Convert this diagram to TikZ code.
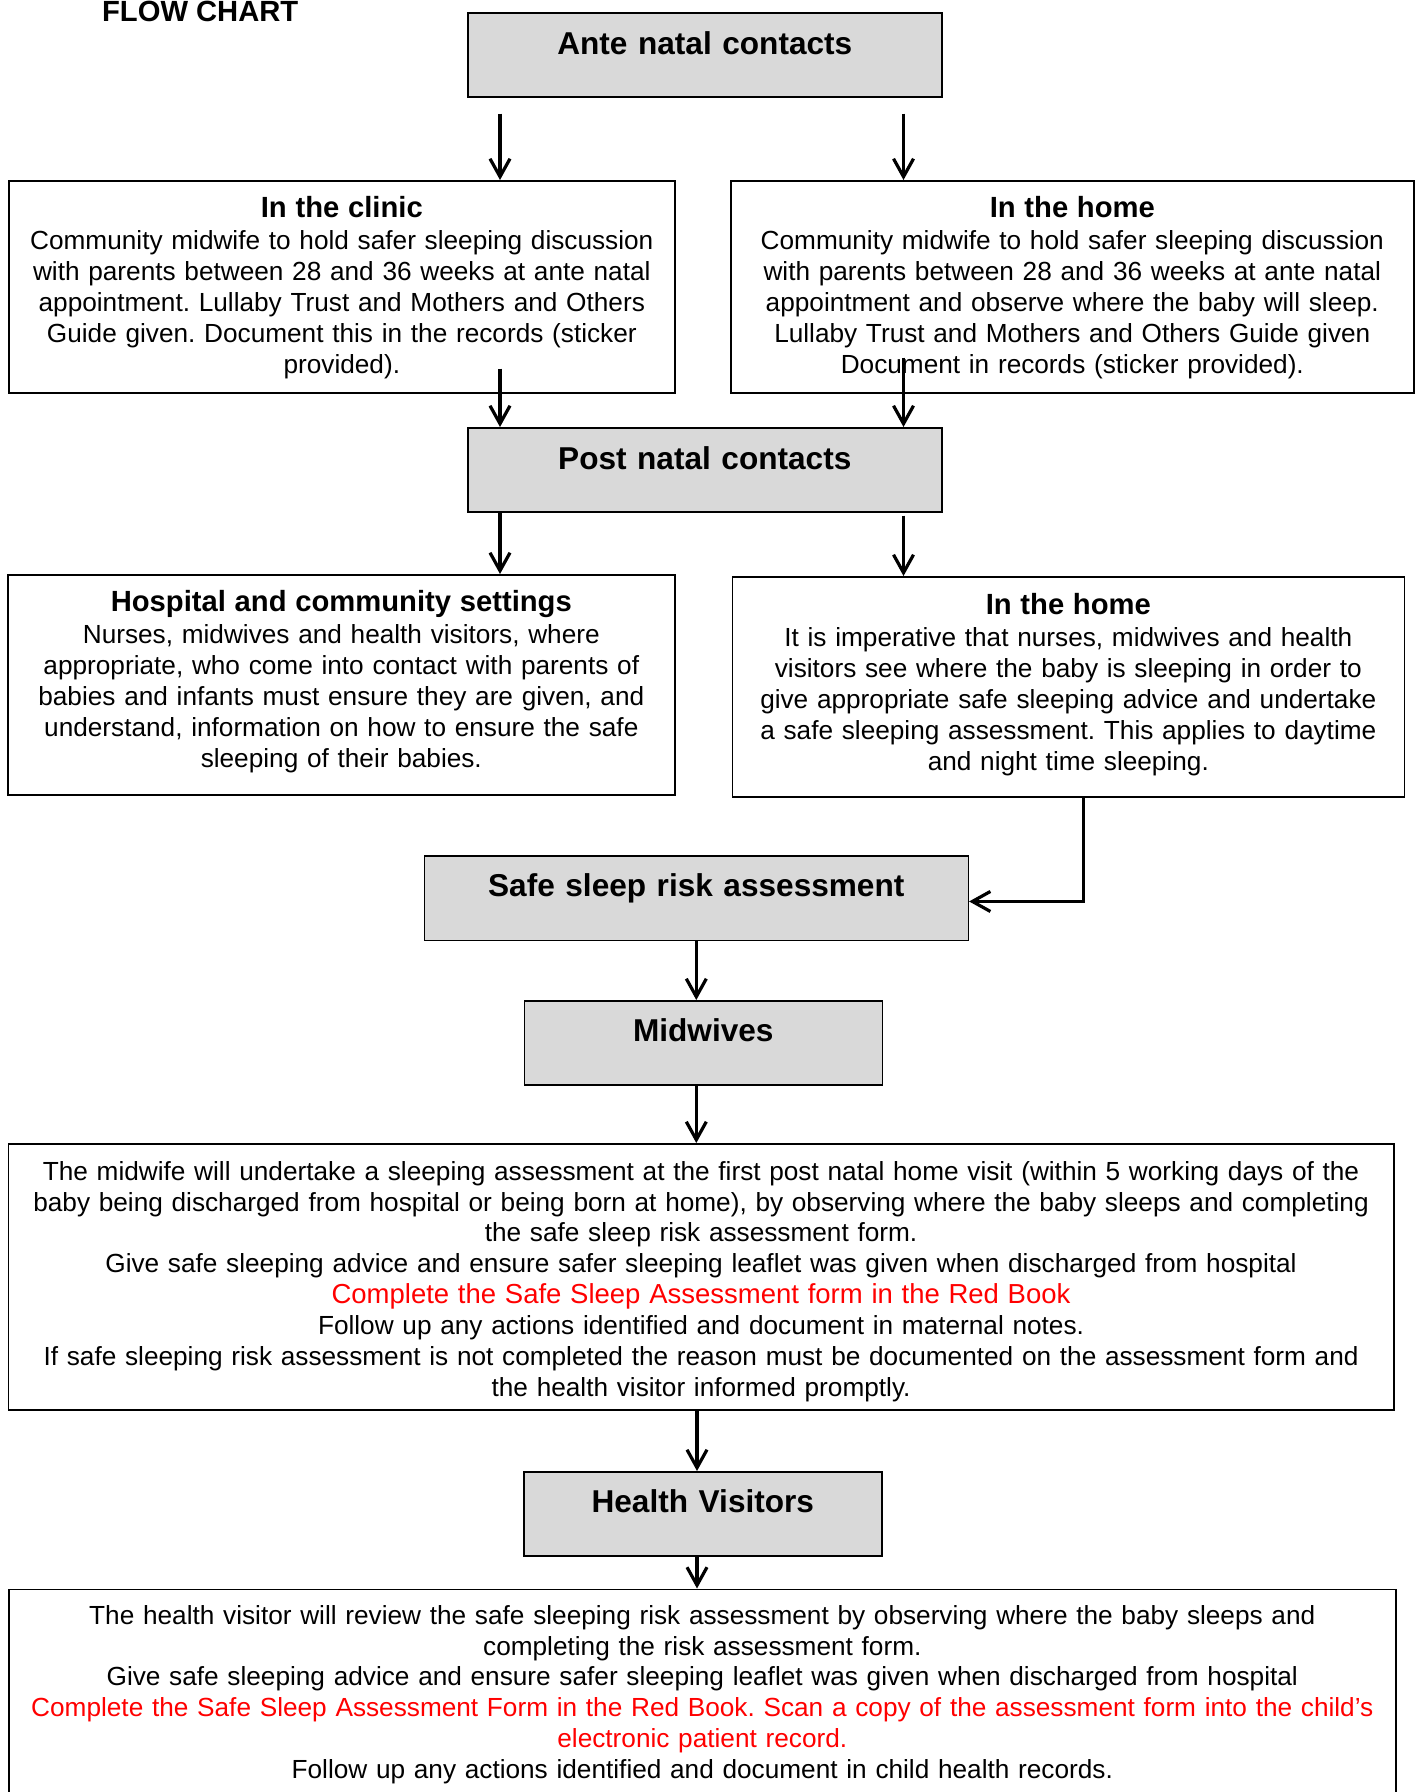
\documentclass[tikz,border=0pt]{standalone}
\usepackage{fontspec}
\setmainfont{Liberation Sans}
\usepackage{tikz}
\usetikzlibrary{arrows.meta,positioning}
\usepackage{xcolor}
\frenchspacing
\definecolor{boxgrey}{RGB}{217,217,217}
\definecolor{notered}{RGB}{255,0,0}
\tikzstyle{headbox} = [rectangle, anchor=north west, inner sep=0pt, align=center, draw=black, fill=boxgrey, line width=0.8pt, font=\bfseries\fontsize{15.8}{18}\selectfont]
\tikzstyle{infobox} = [rectangle, anchor=north west, inner sep=0pt, align=center, draw=black, fill=white, line width=0.8pt, font=\fontsize{13.1}{15.45}\selectfont]
\tikzstyle{arrow} = [line width=1.6pt, -{Straight Barb[length=9pt,width=10pt]}]
\newcommand{\boxhead}[1]{{\bfseries\fontsize{14.6}{15.45}\selectfont #1}\\[0.7pt]}

\begin{document}
\begin{tikzpicture}[x=0.5pt, y=-0.5pt]
\useasboundingbox (0,0) rectangle (1414,1792);

% Heading
\node[font=\bfseries\fontsize{14.6}{16}\selectfont, anchor=base west, inner sep=0pt] (flowtitle) at (101.7,22) {FLOW CHART};

% Ante natal
\node[headbox, text width=237pt, text height=20.65pt, text depth=21.35pt] (ante) at (467,12) {Ante natal contacts};
\node[infobox, text width=333pt, text height=18.35pt, text depth=87.65pt] (clinic) at (8,180) {\boxhead{In the clinic}
Community midwife to hold safer sleeping discussion\\
with parents between 28 and 36 weeks at ante natal\\
appointment. Lullaby Trust and Mothers and Others\\
Guide given. Document this in the records (sticker\\
provided).};
\node[infobox, text width=341.5pt, text height=18.35pt, text depth=87.65pt] (homeA) at (730,180) {\boxhead{In the home}
Community midwife to hold safer sleeping discussion\\
with parents between 28 and 36 weeks at ante natal\\
appointment and observe where the baby will sleep.\\
Lullaby Trust and Mothers and Others Guide given\\
Document in records (sticker provided).};

% Post natal
\node[headbox, text width=237pt, text height=20.65pt, text depth=21.35pt] (post) at (467,427) {Post natal contacts};
\node[infobox, text width=333.5pt, text height=18.35pt, text depth=91.65pt] (hosp) at (7,574) {\boxhead{Hospital and community settings}
Nurses, midwives and health visitors, where\\
appropriate, who come into contact with parents of\\
babies and infants must ensure they are given, and\\
understand, information on how to ensure the safe\\
sleeping of their babies.};
\node[infobox, text width=336pt, text height=18.65pt, text depth=91.35pt] (homeB) at (731.5,576) {\boxhead{In the home}
It is imperative that nurses, midwives and health\\
visitors see where the baby is sleeping in order to\\
give appropriate safe sleeping advice and undertake\\
a safe sleeping assessment. This applies to daytime\\
and night time sleeping.};

% Assessment and midwives
\node[headbox, text width=272pt, text height=20.5pt, text depth=21.75pt] (risk) at (423.5,855) {Safe sleep risk assessment};
\node[headbox, text width=179pt, text height=20.35pt, text depth=21.65pt] (midw) at (523.5,1000) {Midwives};
\node[infobox, text width=692.75pt, text height=18.15pt, text depth=114.85pt] (mwnotes) at (7.5,1143) {The midwife will undertake a sleeping assessment at the first post natal home visit (within 5 working days of the\\
baby being discharged from hospital or being born at home), by observing where the baby sleeps and completing\\
the safe sleep risk assessment form.\\
Give safe sleeping advice and ensure safer sleeping leaflet was given when discharged from hospital\\
{\fontsize{13.75}{15.45}\selectfont\textcolor{notered}{Complete the Safe Sleep Assessment form in the Red Book}}\\
Follow up any actions identified and document in maternal notes.\\
If safe sleeping risk assessment is not completed the reason must be documented on the assessment form and\\
the health visitor informed promptly.};

% Health visitors
\node[headbox, text width=179pt, text height=20.35pt, text depth=21.65pt] (hv) at (523,1471) {Health Visitors};
\node[infobox, text width=693.5pt, text height=17.4pt, text depth=93.35pt] (hvnotes) at (8,1588.5) {The health visitor will review the safe sleeping risk assessment by observing where the baby sleeps and\\
completing the risk assessment form.\\
Give safe sleeping advice and ensure safer sleeping leaflet was given when discharged from hospital\\
\textcolor{notered}{Complete the Safe Sleep Assessment Form in the Red Book. Scan a copy of the assessment form into the child’s}\\
\textcolor{notered}{electronic patient record.}\\
Follow up any actions identified and document in child health records.};

% Arrows
\coordinate (leftx) at (500,0);
\coordinate (rightx) at (903.5,0);
\coordinate (elbowx) at (1083.8,0);
\coordinate (midx) at (697,0);
\draw[arrow, shorten <=8pt] (ante.south -| leftx) -- (clinic.north -| leftx);
\draw[arrow, shorten <=8pt] (ante.south -| rightx) -- (homeA.north -| rightx);
\draw[arrow] ([yshift=12.5pt]clinic.south -| leftx) -- (post.north -| leftx);
\draw[arrow] ([yshift=18pt]homeA.south -| rightx) -- (post.north -| rightx);
\draw[arrow] (post.south -| leftx) -- (hosp.north -| leftx);
\draw[arrow, shorten <=1.5pt] (post.south -| rightx) -- (homeB.north -| rightx);
\draw[arrow] (homeB.south -| elbowx) |- ([yshift=-1.7pt]risk.east);
\draw[arrow] (risk.south) -- (midw.north -| risk.south);
\draw[arrow] (midw.south -| risk.south) -- (mwnotes.north -| risk.south);
\draw[arrow] (mwnotes.south -| midx) -- (hv.north -| midx);
\draw[arrow] (hv.south -| midx) -- (hvnotes.north -| midx);
\end{tikzpicture}
\end{document}
